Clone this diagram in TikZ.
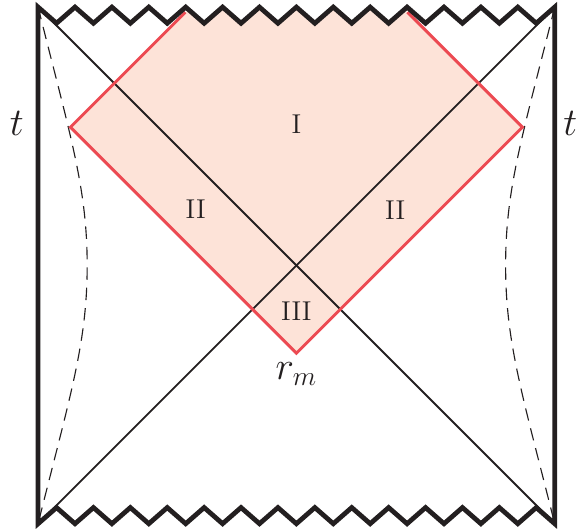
\documentclass[tikz,border=0pt]{standalone}
\usepackage{xcolor}
\usepackage{tikz}
\usetikzlibrary{calc}
\definecolor{inkblack}{HTML}{231F20}
\definecolor{patchred}{HTML}{EC4A52}
\definecolor{patchfill}{HTML}{FDE3D8}
\tikzset{every node/.append style={font=\large,text=inkblack}}
\tikzset{
  boundary/.style={inkblack,line width=2.1pt,line join=miter},
  horizon/.style={inkblack,line width=0.8pt},
  cutoff/.style={inkblack,line width=0.5pt,dash pattern=on 5.5pt off 3.5pt},
  patchedge/.style={patchred,line width=1.3pt,line join=miter},
  biglabel/.style={font=\LARGE}
}

\begin{document}
\begin{tikzpicture}
  \useasboundingbox (-4.59,-4.08) rectangle (4.33,4.11);
  \coordinate (TL) at (-4,4);
  \coordinate (TR) at (4,4);
  \coordinate (BL) at (-4,-4);
  \coordinate (BR) at (4,-4);
  \coordinate (L) at (-3.5,2.14);
  \coordinate (R) at (3.5,2.14);
  \coordinate (rm) at (0,-1.36);
  \coordinate (PL) at (-1.72,3.92);
  \coordinate (PR) at (1.72,3.92);
  % shaded patch, cut off by the singularity
  \begin{scope}
    \clip (BL) -- (TL) \foreach \k in {0,...,13} {
      -- ({-4+(\k+0.5)*4/7},3.75) -- ({-4+(\k+1)*4/7},4) } -- (BR) -- cycle;
    \fill[patchfill] (L) -- (rm) -- (R) -- (0,5.64) -- cycle;
  \end{scope}
  % horizons
  \draw[horizon] (TL) -- (BR);
  \draw[horizon] (TR) -- (BL);
  % cutoff surfaces
  \draw[cutoff] (TL) .. controls (-3.5,2) and (-3.24,1.2) .. (-3.24,0)
    .. controls (-3.24,-1.2) and (-3.5,-2) .. (BL);
  \draw[cutoff] (TR) .. controls (3.5,2) and (3.24,1.2) .. (3.24,0)
    .. controls (3.24,-1.2) and (3.5,-2) .. (BR);
  \draw[patchedge] (PL) -- (L) -- (rm) -- (R) -- (PR);
  % boundaries and singularities
  \draw[boundary] (BL) -- (TL) \foreach \k in {0,...,13} {
      -- ({-4+(\k+0.5)*4/7},3.75) -- ({-4+(\k+1)*4/7},4) }
    -- (BR) \foreach \k in {0,...,13} {
      -- ({4-(\k+0.5)*4/7},-3.75) -- ({4-(\k+1)*4/7},-4) } -- cycle;
  % labels
  \node (regI) at (0,2.18) {I};
  \node (regIIl) at (-1.56,0.87) {II};
  \node (regIIr) at (1.53,0.86) {II};
  \node (regIII) at (0,-0.71) {III};
  \node[biglabel] (rmlabel) at (0,-1.68) {$r_m$};
  \node[biglabel] (tl) at (-4.33,2.2) {$t$};
  \node[biglabel] (tr) at (4.24,2.2) {$t$};
\end{tikzpicture}
\end{document}
